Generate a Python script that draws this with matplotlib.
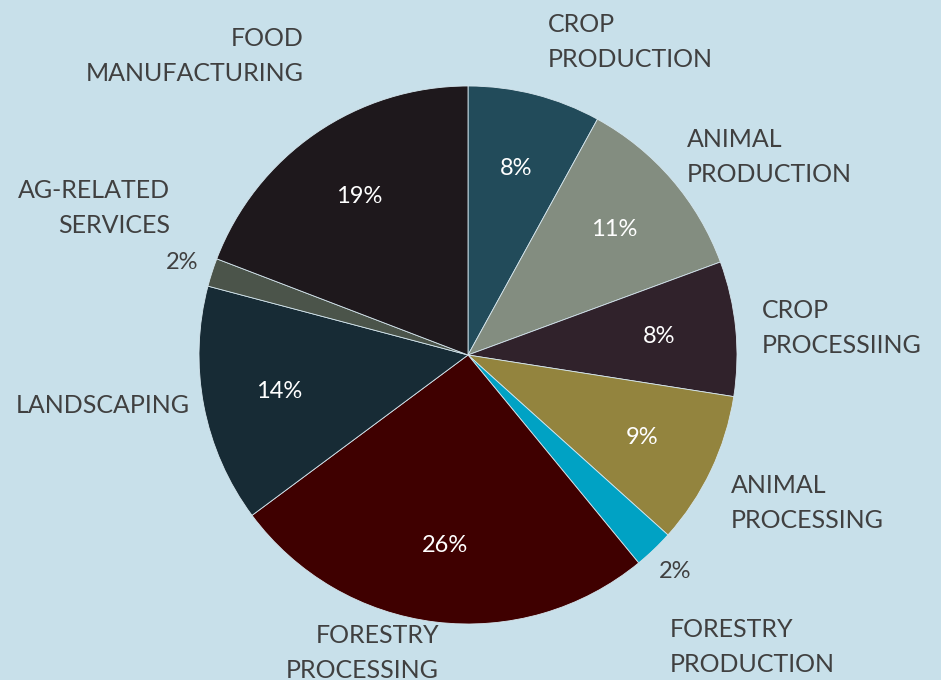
import matplotlib
matplotlib.use("Agg")
import matplotlib.pyplot as plt
import numpy as np

categories = ["CROP\nPRODUCTION", "ANIMAL\nPRODUCTION", "CROP\nPROCESSIING",
              "ANIMAL\nPROCESSING", "FORESTRY\nPRODUCTION", "FORESTRY\nPROCESSING",
              "LANDSCAPING", "AG-RELATED\nSERVICES", "FOOD\nMANUFACTURING"]
shares = [8.0, 11.4, 8.1, 9.2, 2.4, 25.8, 14.3, 1.7, 19.2]
colors = ["#224B5A", "#838D80", "#30222B", "#93843E", "#00A2C4",
          "#3F0000", "#172B35", "#4B544A", "#1E181C"]

BG = "#C8E0EA"
TXT = "#404040"
FONT = "Lato"

W, H = 941, 680
fig = plt.figure(figsize=(W / 100, H / 100), dpi=100, facecolor=BG)
ax = fig.add_axes([0, 0, 1, 1])
ax.set_facecolor(BG)

cx, cy, R = 468, H - 355, 269
wedges, _ = ax.pie(shares, colors=colors, startangle=90, counterclock=False,
                   center=(cx, cy), radius=R, frame=True,
                   wedgeprops=dict(edgecolor="#D5E6EE", linewidth=0.6))
ax.set_xlim(0, W)
ax.set_ylim(0, H)
ax.set_aspect("equal")
ax.axis("off")

# percentage labels
for w, v in zip(wedges, shares):
    mid = np.deg2rad((w.theta1 + w.theta2) / 2)
    small = v < 5
    d = 1.115 * R if small else 0.715 * R
    ax.text(cx + d * np.cos(mid), cy + d * np.sin(mid), f"{v:.0f}%",
            ha="center", va="center", fontsize=17, family=FONT,
            color=TXT if small else "white")

# category labels (pixel layout: x, baseline of first line from top, alignment)
label_pos = [(548, 32, "left"), (687, 147, "left"), (762, 318, "left"),
             (731, 493, "left"), (670, 637, "left"), (439, 643, "right"),
             (190, 413, "right"), (170, 198, "right"), (304, 46, "right")]
LINE = 35
for name, (x, y, ha) in zip(categories, label_pos):
    for i, line in enumerate(name.split("\n")):
        ax.text(x, H - (y + LINE * i), line, ha=ha, va="baseline",
                fontsize=18, family=FONT, color=TXT)

fig.savefig("out.png", dpi=100, facecolor=BG)
